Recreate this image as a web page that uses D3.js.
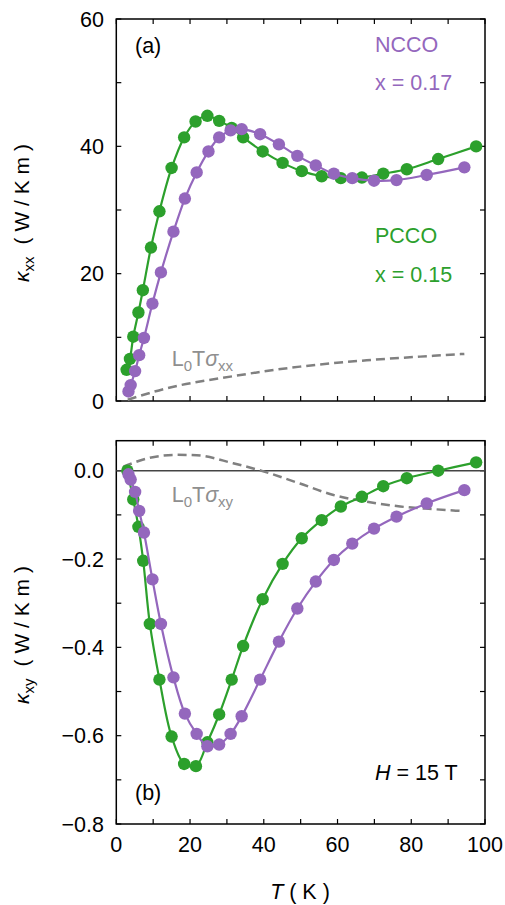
<!DOCTYPE html>
<html><head><meta charset="utf-8">
<script src="https://cdn.jsdelivr.net/npm/d3@7"></script>
<style>html,body{margin:0;padding:0;background:#fff;}svg{display:block;font-family:"Liberation Sans",Arial,sans-serif;}</style>
</head><body>
<svg id="c" width="505" height="905"></svg>
<script>
// ---- data ----
const pccoXX_T = [2.8,3.7,4.6,6.0,7.2,9.4,11.7,15.0,18.4,21.5,24.7,27.9,31.3,34.4,39.7,45.1,50.3,55.7,60.9,66.6,72.4,78.8,87.3,97.6];
const pccoXX_k = [4.9,6.6,10.1,13.9,17.4,24.1,29.8,36.6,41.4,43.9,44.8,44.0,42.9,41.4,39.2,37.4,36.1,35.3,35.0,35.1,35.7,36.4,38.0,40.0];
const nccoXX_T = [3.3,3.9,5.1,6.2,7.5,9.8,12.1,15.5,18.6,21.8,25.0,27.9,31.0,34.0,39.0,44.1,49.1,54.1,59.0,64.0,69.9,76.0,84.2,94.4];
const nccoXX_k = [1.5,2.5,4.7,7.2,9.9,15.3,20.2,26.6,31.8,35.9,39.2,41.4,42.5,42.7,41.9,40.3,38.5,37.0,35.7,35.0,34.6,34.7,35.5,36.7];
const l0XX_T = [3.1,13.7,31.7,49.8,67.9,86.0,94.4];
const l0XX_k = [0.2,2.0,3.9,5.4,6.4,7.1,7.4];

const pccoXY_T = [3.0,4.6,6.0,7.3,9.1,11.7,15.0,18.4,21.6,24.7,27.9,31.3,34.4,39.7,45.1,50.3,55.7,60.9,66.6,72.4,78.8,87.3,97.6];
const pccoXY_k = [0.0,-0.065,-0.127,-0.204,-0.347,-0.473,-0.602,-0.664,-0.669,-0.615,-0.552,-0.473,-0.397,-0.291,-0.211,-0.153,-0.112,-0.081,-0.059,-0.035,-0.017,0.0,0.019];
const nccoXY_T = [3.3,3.9,5.1,6.2,7.5,9.8,12.1,15.5,18.6,21.8,24.7,27.9,31.0,34.0,39.0,44.1,49.1,54.1,59.0,64.0,69.9,76.0,84.2,94.4];
const nccoXY_k = [-0.008,-0.020,-0.048,-0.091,-0.140,-0.246,-0.347,-0.468,-0.550,-0.596,-0.624,-0.620,-0.596,-0.556,-0.473,-0.387,-0.312,-0.251,-0.202,-0.165,-0.131,-0.104,-0.074,-0.044];
const l0XY_T = [1.9,9.0,16.4,21.8,31.7,40.1,49.8,58.9,67.9,77.0,86.0,93.3];
const l0XY_k = [0.009,0.029,0.036,0.035,0.017,-0.002,-0.029,-0.055,-0.070,-0.081,-0.087,-0.091];

const xTicks = [0,20,40,60,80,100];
const yTopTicks = [0,20,40,60];
const yBotTicks = [0,-0.2,-0.4,-0.6,-0.8];

// ---- drawing ----
const GREEN = "#2ca02c", PURPLE = "#9467bd", GRAY = "#808080";
const svg = d3.select("#c");
const x = d3.scaleLinear().domain([0,100]).range([116.3,485]);
const yT = d3.scaleLinear().domain([0,60]).range([401,19]);
const yB = d3.scaleLinear().domain([-0.8,0.068]).range([824,440.7]);
const zip = (a,b)=>a.map((v,i)=>[v,b[i]]);

function frame(y, minorY, minorX){
  const g = svg.append("g");
  const [y0,y1] = y.range();
  const x0 = x.range()[0], x1 = x.range()[1];
  const L = 5;
  minorX.forEach(t=>{
    g.append("line").attr("x1",x(t)).attr("x2",x(t)).attr("y1",y0).attr("y2",y0-L).attr("stroke","#000").attr("stroke-width",1.2);
    g.append("line").attr("x1",x(t)).attr("x2",x(t)).attr("y1",y1).attr("y2",y1+L).attr("stroke","#000").attr("stroke-width",1.2);
  });
  minorY.forEach(t=>{
    g.append("line").attr("x1",x0).attr("x2",x0+L).attr("y1",y(t)).attr("y2",y(t)).attr("stroke","#000").attr("stroke-width",1.2);
    g.append("line").attr("x1",x1).attr("x2",x1-L).attr("y1",y(t)).attr("y2",y(t)).attr("stroke","#000").attr("stroke-width",1.2);
  });
  g.append("rect").attr("x",x0).attr("y",y1).attr("width",x1-x0).attr("height",y0-y1)
    .attr("fill","none").attr("stroke","#000").attr("stroke-width",1.5);
  return g;
}
const xMinor = d3.range(0,101,10);
frame(yT, d3.range(0,61,10), xMinor);
frame(yB, d3.range(-0.8,0.06,0.1).map(v=>+v.toFixed(2)), xMinor);

// zero line bottom
svg.append("line").attr("x1",x(0)).attr("x2",x(100)).attr("y1",yB(0)).attr("y2",yB(0)).attr("stroke","#444").attr("stroke-width",1.3);

// tick labels
const TF = 21.5;
const fmtB = v => (v<0?"\u2212":"") + Math.abs(v).toFixed(1);
yTopTicks.forEach(t=>svg.append("text").attr("x",104).attr("y",yT(t)).attr("dy","0.36em").attr("text-anchor","end").attr("font-size",TF).text(t));
yBotTicks.forEach(t=>svg.append("text").attr("x",104).attr("y",yB(t)).attr("dy","0.36em").attr("text-anchor","end").attr("font-size",TF).text(fmtB(t)));
xTicks.forEach(t=>svg.append("text").attr("x",x(t)).attr("y",852).attr("text-anchor","middle").attr("font-size",TF).text(t));

// series
function series(y, T, K, color, curve){
  const line = d3.line().x(d=>x(d[0])).y(d=>y(d[1])).curve(curve||d3.curveCatmullRom.alpha(0.5));
  const d = zip(T,K);
  svg.append("path").attr("d",line(d)).attr("fill","none").attr("stroke",color).attr("stroke-width",2.2);
  svg.append("g").selectAll("circle").data(d).join("circle").attr("cx",p=>x(p[0])).attr("cy",p=>y(p[1])).attr("r",6.2).attr("fill",color);
}
function dashed(y,T,K){
  const line = d3.line().x(d=>x(d[0])).y(d=>y(d[1])).curve(d3.curveMonotoneX);
  svg.append("path").attr("d",line(zip(T,K))).attr("fill","none").attr("stroke",GRAY).attr("stroke-width",2.5).attr("stroke-dasharray","9,5");
}
dashed(yT,l0XX_T,l0XX_k);
series(yT,pccoXX_T,pccoXX_k,GREEN);
series(yT,nccoXX_T,nccoXX_k,PURPLE);
dashed(yB,l0XY_T,l0XY_k);
series(yB,pccoXY_T,pccoXY_k,GREEN);
series(yB,nccoXY_T,nccoXY_k,PURPLE);

// annotations
const txt=(xx,yy,s,c,fs)=>svg.append("text").attr("x",xx).attr("y",yy).attr("font-size",fs||21.5).attr("fill",c||"#000").text(s);
txt(135,53,"(a)");
txt(375,52,"NCCO",PURPLE);
txt(375,90,"x = 0.17",PURPLE);
txt(375,243,"PCCO",GREEN);
txt(375,282,"x = 0.15",GREEN);
txt(135,800,"(b)");
const h = svg.append("text").attr("x",375).attr("y",780).attr("font-size",21.5);
h.append("tspan").attr("font-style","italic").text("H");
h.append("tspan").text(" = 15 T");

function l0(yy, sub){
  const t = svg.append("text").attr("x",171.7).attr("y",yy).attr("font-size",21.5).attr("fill","#8f8f8f");
  t.append("tspan").text("L");
  t.append("tspan").attr("font-size",15).attr("dy",5).text("0");
  t.append("tspan").attr("dy",-5).text("T");
  t.append("tspan").attr("font-style","italic").text("\u03c3");
  t.append("tspan").attr("font-size",15).attr("dy",5).text(sub);
}
l0(365.7,"xx");
l0(501.7,"xy");

// axis titles
function ylab(cx, cy, sub){
  const t = svg.append("text").attr("transform",`translate(${cx},${cy}) rotate(-90)`).attr("text-anchor","middle").attr("font-size",21);
  t.append("tspan").attr("font-style","italic").text("\u03ba");
  t.append("tspan").attr("font-size",15).attr("dy",5).text(sub);
  t.append("tspan").attr("dy",-5).attr("dx",12).text("( W / K m )");
}
ylab(29,213,"xx");
ylab(29,635,"xy");
const xl = svg.append("text").attr("x",300).attr("y",899).attr("text-anchor","middle").attr("font-size",21.5);
xl.append("tspan").attr("font-style","italic").text("T");
xl.append("tspan").text(" ( K )");
</script>
</body></html>
